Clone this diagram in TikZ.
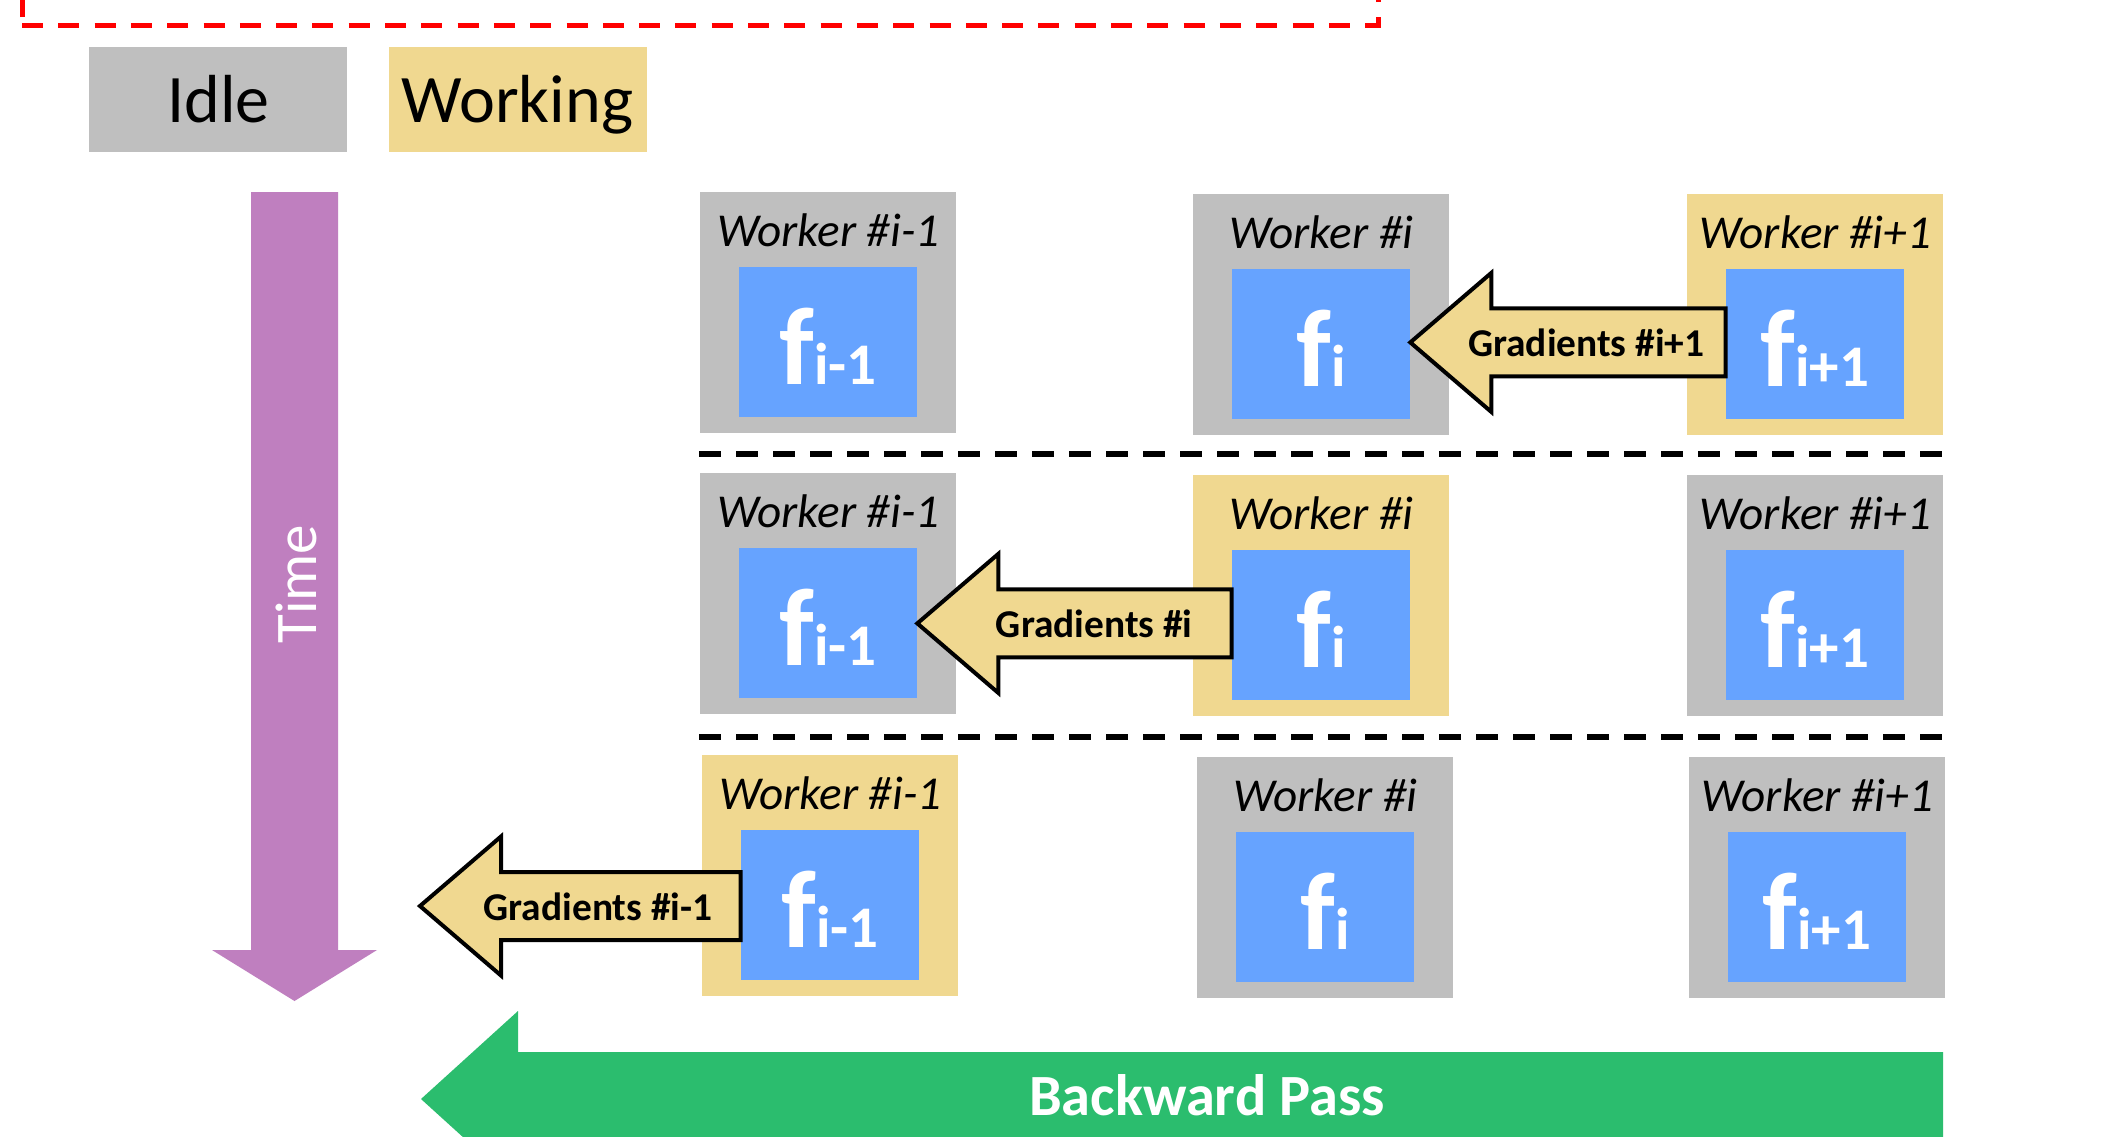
\documentclass[tikz,border=0pt]{standalone}
\usepackage{fontspec}
\setmainfont{Carlito}
\usetikzlibrary{calc}

\definecolor{idlegray}{RGB}{191,191,191}
\definecolor{worktan}{RGB}{240,216,144}
\definecolor{fblue}{RGB}{102,163,255}
\definecolor{timepurple}{RGB}{191,127,191}
\definecolor{passgreen}{RGB}{43,189,110}

\newcommand{\fsub}[1]{{\fontsize{29.5}{32}\selectfont #1}}

\tikzset{
  legendbox/.style={rectangle, inner sep=0, anchor=north west,
    minimum width=129pt, minimum height=52.5pt},
  legendtext/.style={anchor=base, inner sep=0, font=\fontsize{34}{40}\selectfont},
  worker/.style={rectangle, inner sep=0, anchor=north west,
    minimum width=128pt, minimum height=120.5pt},
  idle/.style={worker, fill=idlegray},
  busy/.style={worker, fill=worktan},
  fbox/.style={rectangle, inner sep=0, anchor=north west, fill=fblue,
    minimum width=89pt, minimum height=75pt},
  wlabel/.style={anchor=base, inner sep=0, font=\fontsize{23.6}{26}\selectfont\itshape},
  flabel/.style={anchor=base, inner sep=0, text=white,
    font=\fontsize{55}{60}\selectfont\bfseries},
  gradarrow/.style={draw=black, line width=2pt, fill=worktan, line join=miter},
  gradtext/.style={anchor=base, inner sep=0, font=\fontsize{19.7}{22}\selectfont\bfseries},
  separator/.style={draw=black, line width=2.8pt, dash pattern=on 11pt off 7.5pt},
  reddash/.style={draw=red, line width=2.5pt, dash pattern=on 10.5pt off 7.65pt},
  bigtext/.style={anchor=base, inner sep=0, text=white},
}

% one worker cell: name, style, x, y, label, subscript of f
\newcommand{\workercell}[6]{%
  \node[#2] (w#1) at (#3,#4) {};
  \node[wlabel] (w#1t) at ($(w#1.north)+(0,54)$) {Worker \##5};
  \node[fbox] (f#1) at ($(w#1.north west)+(38.5,75)$) {};
  \node[flabel] (f#1t) at ($(f#1.center)+(0,42)$) {f\fsub{#6}};
}

\begin{document}
\begin{tikzpicture}[x=0.5pt, y=-0.5pt]
\clip (0,0) rectangle (2120,1136);
\fill[white] (0,0) rectangle (2120,1136);

% red dashed frame, cut off at the top
\draw[reddash] (22,25.5) -- (1378,25.5) -- (1378,-30);
\draw[reddash] (22.5,17) -- (22.5,-30);

% legend
\node[legendbox, fill=idlegray] (idlebox) at (89,47) {};
\node[legendtext] (idletext) at ($(idlebox.north)+(0,75)$) {Idle};
\node[legendbox, fill=worktan] (workbox) at (389,47) {};
\node[legendtext] (worktext) at ($(workbox.north)+(-1,75)$) {Working};

% time arrow
\fill[timepurple] (251,192) -- (338,192) -- (338,950) -- (377,950) -- (294.5,1001)
  -- (212,950) -- (251,950) -- cycle;
\node[bigtext, rotate=90, font=\fontsize{29.5}{32}\selectfont] (timetext) at (316,584) {Time};

% workers, one row per time step
\workercell{11}{idle}{700}{192}{i-1}{i-1}
\workercell{12}{idle}{1193}{194}{i}{i}
\workercell{13}{busy}{1687}{194}{i+1}{i+1}

\workercell{21}{idle}{700}{473}{i-1}{i-1}
\workercell{22}{busy}{1193}{475}{i}{i}
\workercell{23}{idle}{1687}{475}{i+1}{i+1}

\workercell{31}{busy}{702}{755}{i-1}{i-1}
\workercell{32}{idle}{1197}{757}{i}{i}
\workercell{33}{idle}{1689}{757}{i+1}{i+1}

% separators between time steps
\coordinate (sepA1) at (699,454);
\coordinate (sepA2) at (1943,454);
\coordinate (sepB1) at (699,737);
\coordinate (sepB2) at (1943,737);
\draw[separator] (sepA1) -- (sepA2);
\draw[separator] (sepB1) -- (sepB2);

% gradient arrows
\coordinate (g1tip) at ($(f12.east)+(0,-2)$);
\draw[gradarrow] (g1tip) -- ++(81,-69.5) -- ++(0,35.5)
  -- ($(g1tip -| f13.west)+(0,-34)$) -- ++(0,68)
  -- ($(g1tip)+(81,34)$) -- ++(0,35.5) -- cycle;
\node[gradtext] (g1) at ($(g1tip)+(176,14.5)$) {Gradients \#i+1};

\coordinate (g2tip) at (f21.east);
\draw[gradarrow] (g2tip) -- ++(81,-69.5) -- ++(0,35.5)
  -- ($(g2tip -| f22.west)+(0,-34)$) -- ++(0,68)
  -- ($(g2tip)+(81,34)$) -- ++(0,35.5) -- cycle;
\node[gradtext] (g2) at ($(g2tip)+(177,14.5)$) {Gradients \#i};

\coordinate (g3tip) at (420,906);
\draw[gradarrow] (g3tip) -- ++(81,-69.5) -- ++(0,35.5)
  -- ($(g3tip -| f31.west)+(0,-34)$) -- ++(0,68)
  -- ($(g3tip)+(81,34)$) -- ++(0,35.5) -- cycle;
\node[gradtext] (g3) at ($(g3tip)+(178,14.5)$) {Gradients \#i-1};

% backward pass arrow
\fill[passgreen] (1943,1052) -- (518,1052) -- (518,1011) -- (421,1099)
  -- (518,1187) -- (518,1146) -- (1943,1146) -- cycle;
\node[bigtext, font=\fontsize{29.2}{32}\selectfont\bfseries] (passtext) at (1207,1115) {Backward Pass};
\end{tikzpicture}
\end{document}
